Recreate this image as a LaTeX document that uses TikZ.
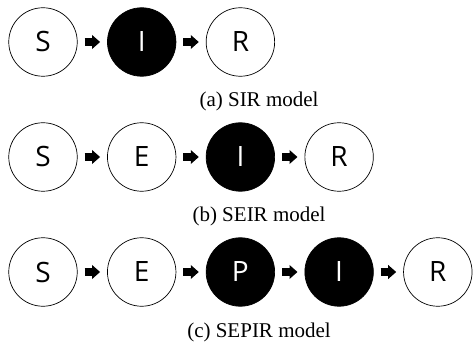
\documentclass[tikz,border=0pt]{standalone}
\usepackage{fontspec}
\setmainfont{Liberation Serif}
\newfontfamily\statefont{Open Sans}
\usepackage{tikz}
\usetikzlibrary{positioning, arrows.meta}

\begin{document}
\begin{tikzpicture}[x=1pt, y=-1pt, node distance=29.5pt]

  \tikzstyle{state}=[circle, draw, line width=0.7pt, minimum size=68.5pt, inner sep=0pt,
    font=\statefont\fontsize{28}{30}\selectfont]
  \tikzstyle{open}=[state, fill=white, text=black]
  \tikzstyle{infected}=[state, fill=black, text=white]
  \tikzstyle{flow}=[line width=8pt, shorten <=7pt, shorten >=7pt,
    -{Triangle[length=8pt, width=13.5pt]}]
  \tikzstyle{caption}=[anchor=base, inner sep=0pt, font=\fontsize{21}{24}\selectfont]

  \useasboundingbox (0,0) rectangle (473,344);

  % (a) SIR
  \node [open] (S-A) at (43,42) {S};
  \node [infected, right = of S-A] (I-A) {I};
  \node [open, right = of I-A] (R-A) {R};
  \node [caption] (cap-A) at (259,107) {(a) SIR model};

  % (b) SEIR
  \node [open] (S-B) at (43,157) {S};
  \node [open, right = of S-B] (E-B) {E};
  \node [infected, right = of E-B] (I-B) {I};
  \node [open, right = of I-B] (R-B) {R};
  \node [caption] (cap-B) at (259,222) {(b) SEIR model};

  % (c) SEPIR
  \node [open] (S-C) at (43,272) {S};
  \node [open, right = of S-C] (E-C) {E};
  \node [infected, right = of E-C] (P-C) {P};
  \node [infected, right = of P-C] (I-C) {I};
  \node [open, right = of I-C] (R-C) {R};
  \node [caption] (cap-C) at (259,337) {(c) SEPIR model};

  \foreach \a/\b in {S-A/I-A, I-A/R-A, S-B/E-B, E-B/I-B, I-B/R-B,
                     S-C/E-C, E-C/P-C, P-C/I-C, I-C/R-C}
    \draw [flow] (\a) -- (\b);

\end{tikzpicture}
\end{document}
